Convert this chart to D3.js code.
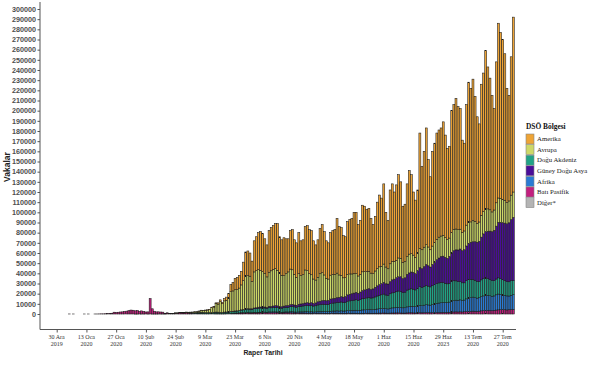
<!DOCTYPE html>
<html>
<head>
<meta charset="utf-8">
<script src="https://cdn.jsdelivr.net/npm/d3@7/dist/d3.min.js"></script>
<style>
body { margin: 0; background: #fff; }
</style>
</head>
<body>
<svg id="chart" width="605" height="367"></svg>
<script>
// daily cases by WHO region, in thousands, one value per day from 30 Dec 2019 (rows = weeks Mon..Sun)
var START = '2019-12-30';

var batiPasifik = [
	null, null, null, null, null, null, 0.04,
	null, 0.02, null, null, null, null, 0.01,
	null, 0.01, null, null, 0.02, 0.02, 0.08,
	0.15, 0.13, 0.26, 0.44, 0.69, 0.77, 1.77,
	1.46, 1.74, 1.98, 2.10, 2.59, 2.83, 3.24,
	3.89, 3.69, 3.14, 3.39, 2.65, 3.00, 2.47,
	2.02, 2.06, 15.15, 5.09, 2.64, 2.01, 2.05,
	1.89, 1.75, 0.55, 1.03, 0.65, 0.64, 0.65,
	0.82, 0.93, 1.2, 1.1, 1.0, 1.2, 1.0,
	0.9, 0.8, 0.7, 0.6, 0.65, 0.6, 0.5,
	0.35, 0.3, 0.3, 0.25, 0.25, 0.2, 0.2,
	0.2, 0.2, 0.2, 0.3, 0.35, 0.4, 0.5,
	0.7, 0.8, 0.9, 1.0, 1.0, 1.1, 1.1,
	1.0, 1.0, 1.1, 1.0, 1.1, 1.2, 1.2,
	1.3, 1.2, 1.4, 1.3, 1.4, 1.3, 1.2,
	1.1, 1.0, 1.1, 1.2, 1.1, 1.2, 1.1,
	1.0, 0.9, 1.0, 0.9, 0.9, 0.9, 0.8,
	0.8, 0.8, 0.7, 0.7, 0.8, 0.8, 0.8,
	0.7, 0.7, 0.6, 0.7, 0.8, 0.7, 0.8,
	0.7, 0.8, 0.7, 0.7, 0.8, 0.7, 0.7,
	0.7, 0.7, 0.6, 0.6, 0.7, 0.7, 0.8,
	0.8, 0.7, 0.7, 0.8, 0.8, 0.9, 0.9,
	1.0, 0.9, 0.8, 0.9, 1.0, 1.0, 1.1,
	1.1, 1.0, 0.9, 0.9, 1.1, 1.2, 1.2,
	1.1, 1.0, 1.2, 1.3, 1.2, 1.3, 1.4,
	1.3, 1.2, 1.3, 1.4, 1.5, 1.5, 1.6,
	1.6, 1.5, 1.6, 1.7, 1.9, 2.0, 2.1,
	2.0, 2.1, 2.0, 2.2, 2.4, 2.5, 2.6,
	2.8, 2.7, 2.6, 2.8, 3.1, 3.3, 3.5,
	3.6, 3.5, 3.4, 3.6, 3.9, 4.1, 4.2,
	4.3, 4.2, 4.0, 4.2, 4.4, 4.5
];

var diger = [
	null, null, null, null, null, null, 0,
	null, 0, null, null, null, null, 0,
	null, 0, null, null, 0, 0, 0,
	0, 0, 0, 0, 0, 0, 0,
	0, 0, 0, 0, 0, 0, 0,
	0, 0, 0.01, 0.04, 0, 0.06, 0.07,
	0, 0.04, 0, 0.04, 0.07, 0.07, 0.1,
	0.09, 0.08, 0.01, 0, 0, 0, 0
];

var afrika = [
	null, null, null, null, null, null, 0,
	null, 0, null, null, null, null, 0,
	null, 0, null, null, 0, 0, 0,
	0, 0, 0, 0, 0, 0, 0,
	0, 0, 0, 0, 0, 0, 0,
	0, 0, 0, 0, 0, 0, 0,
	0, 0, 0, 0, 0, 0, 0,
	0, 0, 0, 0, 0, 0, 0,
	0, 0, 0, 0, 0, 0, 0,
	0, 0, 0, 0.01, 0.01, 0.01, 0.01,
	0.01, 0.01, 0.02, 0.02, 0.03, 0.05, 0.06,
	0.05, 0.05, 0.1, 0.1, 0.15, 0.15, 0.15,
	0.15, 0.15, 0.2, 0.25, 0.3, 0.4, 0.45,
	0.4, 0.4, 0.5, 0.5, 0.6, 0.6, 0.6,
	0.6, 0.5, 0.7, 0.7, 0.7, 0.8, 0.8,
	0.7, 0.7, 0.8, 0.9, 0.9, 1.0, 1.1,
	1.0, 1.0, 1.1, 1.2, 1.2, 1.3, 1.4,
	1.3, 1.4, 1.3, 1.4, 1.6, 1.7, 1.8,
	1.7, 1.7, 1.8, 2.0, 2.1, 2.2, 2.3,
	2.2, 2.3, 2.2, 2.3, 2.6, 2.7, 2.8,
	2.9, 3.0, 2.8, 3.0, 3.3, 3.4, 3.5,
	3.6, 3.5, 3.6, 3.8, 4.1, 4.3, 4.5,
	4.6, 4.3, 4.2, 4.8, 5.0, 5.1, 5.3,
	5.5, 5.4, 5.2, 5.4, 5.9, 6.2, 6.4,
	6.3, 6.2, 6.6, 7.2, 7.0, 7.4, 7.8,
	7.6, 7.5, 8.0, 8.5, 9.0, 9.3, 9.6,
	9.8, 9.7, 9.6, 10.0, 10.8, 11.2, 11.5,
	11.5, 11.8, 11.2, 11.5, 12.5, 13.0, 13.5,
	13.8, 13.5, 13.0, 13.2, 14.0, 14.5, 15.0,
	14.8, 14.5, 14.0, 14.2, 15.0, 15.5, 15.0,
	14.5, 14.2, 13.8, 13.5, 14.0, 14.5
];

var doguAkdeniz = [
	null, null, null, null, null, null, 0,
	null, 0, null, null, null, null, 0,
	null, 0, null, null, 0, 0, 0,
	0, 0, 0, 0, 0, 0, 0,
	0, 0, 0, 0, 0, 0, 0,
	0, 0, 0, 0, 0, 0, 0,
	0, 0, 0, 0, 0, 0, 0,
	0, 0, 0.01, 0.01, 0.02, 0.03, 0.02,
	0.02, 0.05, 0.1, 0.1, 0.15, 0.2, 0.3,
	0.4, 0.5, 0.6, 0.6, 0.9, 1.1, 1.1,
	1.0, 1.0, 1.1, 1.2, 1.4, 1.6, 1.5,
	1.3, 1.2, 1.5, 1.5, 1.6, 1.8, 1.9,
	2.0, 2.0, 2.2, 2.6, 2.8, 3.2, 3.3,
	3.3, 3.2, 3.6, 3.7, 4.0, 4.1, 4.2,
	4.0, 3.8, 4.2, 4.1, 4.3, 4.5, 4.4,
	4.2, 4.0, 4.3, 4.5, 4.6, 5.0, 5.2,
	5.0, 4.8, 5.3, 5.5, 5.8, 6.0, 6.2,
	6.0, 6.1, 5.8, 6.0, 6.5, 6.8, 7.0,
	7.2, 7.0, 7.1, 7.5, 7.8, 8.0, 8.3,
	8.5, 8.7, 8.4, 8.6, 9.2, 9.5, 9.6,
	10.0, 10.3, 10.0, 10.5, 11.0, 11.3, 11.5,
	11.8, 11.5, 11.6, 12.2, 12.8, 13.2, 13.5,
	14.0, 13.5, 13.2, 14.2, 14.8, 15.0, 15.5,
	16.0, 15.8, 15.0, 15.2, 16.5, 17.0, 17.2,
	17.0, 16.5, 17.5, 18.5, 18.0, 18.5, 19.0,
	18.5, 18.0, 18.5, 19.0, 19.5, 19.8, 20.0,
	19.5, 19.0, 18.5, 18.5, 19.5, 19.5, 19.0,
	18.5, 18.0, 17.5, 17.0, 18.0, 18.5, 18.0,
	17.5, 17.0, 16.5, 16.0, 16.5, 17.0, 17.0,
	16.5, 16.0, 15.5, 15.0, 15.5, 16.0, 15.5,
	15.0, 14.5, 14.0, 14.0, 14.5, 14.0
];

var guneyDoguAsya = [
	null, null, null, null, null, null, 0,
	null, 0, null, null, null, null, 0,
	null, 0, null, null, 0, 0, 0,
	0, 0, 0, 0, 0, 0, 0,
	0, 0, 0, 0, 0, 0, 0,
	0, 0, 0, 0, 0, 0, 0,
	0, 0, 0, 0, 0, 0, 0,
	0, 0, 0, 0, 0, 0, 0,
	0, 0, 0, 0, 0, 0, 0,
	0, 0, 0.01, 0.02, 0.01, 0.01, 0.01,
	0.01, 0.02, 0.03, 0.03, 0.03, 0.05, 0.05,
	0.05, 0.05, 0.1, 0.1, 0.1, 0.15, 0.15,
	0.15, 0.15, 0.2, 0.25, 0.3, 0.4, 0.45,
	0.5, 0.5, 0.7, 0.9, 1.0, 1.0, 1.1,
	1.0, 1.0, 1.3, 1.4, 1.5, 1.6, 1.6,
	1.5, 1.4, 1.6, 1.7, 1.8, 2.0, 2.1,
	1.9, 1.9, 2.2, 2.3, 2.4, 2.6, 2.7,
	2.6, 2.8, 2.6, 2.8, 3.2, 3.3, 3.6,
	3.8, 3.6, 3.9, 4.5, 4.3, 4.6, 4.8,
	5.0, 5.2, 5.3, 5.6, 6.2, 6.5, 6.8,
	7.0, 7.3, 7.0, 7.5, 8.0, 8.3, 8.6,
	8.8, 8.5, 8.8, 9.5, 10.0, 10.5, 11.0,
	11.5, 11.0, 11.3, 12.0, 12.8, 13.2, 13.8,
	14.0, 14.5, 13.8, 14.2, 15.5, 16.0, 16.5,
	16.5, 16.0, 17.5, 18.5, 18.5, 19.5, 20.5,
	20.0, 19.5, 21.0, 22.0, 23.5, 24.5, 25.5,
	26.0, 25.5, 25.0, 26.5, 28.0, 29.5, 30.5,
	31.0, 32.0, 31.5, 32.5, 34.0, 35.5, 36.5,
	37.0, 38.0, 38.5, 39.5, 42.0, 44.0, 45.5,
	46.5, 47.5, 48.0, 49.5, 52.0, 54.5, 55.5,
	56.0, 56.5, 57.0, 58.0, 60.0, 62.0
];

var avrupa = [
	null, null, null, null, null, null, 0,
	null, 0, null, null, null, null, 0,
	null, 0, null, null, 0, 0, 0,
	0, 0, 0, 0, 0, 0, 0,
	0, 0, 0, 0, 0, 0, 0,
	0, 0, 0, 0, 0, 0, 0,
	0, 0, 0, 0, 0, 0, 0,
	0, 0, 0, 0, 0.01, 0.02, 0.05,
	0.15, 0.1, 0.15, 0.2, 0.3, 0.4, 0.4,
	0.45, 0.5, 0.8, 0.9, 1.2, 1.8, 1.8,
	2.3, 2.5, 2.9, 4.7, 5.1, 8.2, 7.9,
	10.5, 8.6, 11.0, 11.5, 13.5, 19.5, 20.0,
	21.0, 21.0, 22.0, 24.5, 28.5, 32.5, 32.5,
	32.0, 27.0, 35.5, 36.5, 37.0, 36.0, 34.5,
	33.0, 30.0, 33.5, 35.0, 36.0, 36.5, 35.0,
	33.0, 31.0, 30.0, 31.5, 33.0, 35.0, 34.0,
	30.0, 27.5, 30.0, 28.0, 28.5, 32.5, 31.5,
	29.0, 27.5, 24.0, 22.5, 24.0, 27.0, 27.5,
	25.0, 22.0, 21.0, 23.5, 24.0, 23.5, 24.0,
	22.0, 21.0, 19.0, 18.5, 20.0, 20.0, 19.5,
	19.0, 18.5, 17.0, 17.5, 18.5, 18.0, 17.5,
	17.0, 16.0, 15.0, 16.0, 17.0, 17.5, 17.0,
	18.0, 16.5, 15.0, 17.5, 18.0, 17.5, 17.0,
	18.5, 18.0, 16.0, 16.0, 17.5, 18.5, 18.0,
	17.0, 16.0, 17.0, 19.0, 18.5, 19.0, 19.5,
	18.5, 17.0, 18.0, 19.5, 20.0, 20.5, 20.0,
	20.5, 19.5, 18.5, 18.0, 20.0, 21.0, 20.5,
	20.0, 19.5, 18.0, 18.5, 20.5, 21.0, 20.0,
	21.0, 20.0, 18.5, 19.0, 21.5, 22.0, 22.5,
	22.0, 21.0, 19.5, 20.0, 23.0, 24.0, 23.5,
	23.0, 22.5, 21.0, 21.5, 24.0, 25.0
];

var amerika = [
	null, null, null, null, null, null, 0,
	null, 0, null, null, null, null, 0,
	null, 0, null, null, 0, 0, 0,
	0, 0, 0, 0, 0, 0, 0,
	0, 0, 0, 0, 0, 0, 0,
	0, 0, 0, 0, 0, 0, 0,
	0, 0, 0, 0, 0, 0, 0,
	0, 0, 0, 0, 0, 0, 0,
	0.01, 0, 0.01, 0.02, 0.02, 0.03, 0.04,
	0.05, 0.08, 0.1, 0.1, 0.15, 0.2, 0.2,
	0.25, 0.3, 0.3, 0.5, 0.7, 0.9, 1.3,
	1.8, 1.4, 2.2, 3.1, 4.3, 7.0, 8.3,
	11.0, 11.9, 12.5, 13.4, 18.1, 23.4, 24.2,
	22.8, 19.9, 30.6, 33.4, 36.3, 38.1, 37.4,
	34.1, 31.5, 40.9, 42.5, 43.1, 44.3, 46.0,
	35.5, 34.9, 37.2, 34.2, 32.6, 37.8, 39.5,
	34.1, 33.9, 40.4, 34.1, 34.2, 42.7, 44.4,
	43.3, 43.4, 37.6, 34.6, 36.9, 44.4, 47.3,
	42.6, 37.0, 35.6, 41.8, 43.0, 44.0, 53.8,
	47.6, 47.0, 41.4, 40.3, 52.2, 53.6, 54.6,
	60.4, 60.2, 50.6, 52.9, 65.5, 64.3, 61.1,
	62.0, 53.8, 48.3, 53.7, 65.3, 70.6, 67.1,
	78.9, 53.8, 47.5, 72.6, 76.4, 68.2, 74.3,
	81.9, 75.3, 55.1, 56.3, 71.5, 82.1, 77.7,
	62.1, 56.3, 62.2, 113.5, 81.8, 94.3, 114.8,
	86.1, 71.8, 93.2, 97.6, 104.5, 105.4, 106.3,
	111.6, 100.8, 89.8, 90.3, 119.8, 122.8, 128.4,
	121.0, 118.6, 90.8, 86.3, 118.6, 137.5, 131.4,
	138.9, 122.8, 104.9, 96.5, 128.9, 136.2, 155.5,
	139.6, 129.5, 114.6, 99.7, 138.6, 171.9, 163.3,
	157.2, 144.1, 112.2, 103.8, 136.1, 172.0
];

var regions = ['Amerika', 'Avrupa', 'Doğu Akdeniz', 'Güney Doğu Asya', 'Afrika', 'Batı Pasifik', 'Diğer*'];
var regionColors = ['#eea436', '#cdd867', '#21a386', '#4a0d98', '#2a7bd3', '#c21f7e', '#b4b4b4'];
var regionSeries = [amerika, avrupa, doguAkdeniz, guneyDoguAsya, afrika, batiPasifik, diger];

var yTicks = d3.range(0, 300001, 10000);
var xTickDates = ['2019-12-30', '2020-01-13', '2020-01-27', '2020-02-10', '2020-02-24', '2020-03-09',
	'2020-03-23', '2020-04-06', '2020-04-20', '2020-05-04', '2020-05-18', '2020-06-01', '2020-06-15',
	'2020-06-29', '2020-07-13', '2020-07-27'];
var xTickLabels = [['30 Ara', '2019'], ['13 Oca', '2020'], ['27 Oca', '2020'], ['10 Şub', '2020'],
	['24 Şub', '2020'], ['9 Mar', '2020'], ['23 Mar', '2020'], ['6 Nis', '2020'], ['20 Nis', '2020'],
	['4 May', '2020'], ['18 May', '2020'], ['1 Haz', '2020'], ['15 Haz', '2020'], ['29 Haz', '2023'],
	['13 Tem', '2020'], ['27 Tem', '2020']];

var SANS = '"Liberation Sans", Arial, sans-serif';
var SERIF = '"Liberation Serif", "Times New Roman", serif';

drawChart();

function drawChart() {
	var svg = d3.select('#chart');
	var parse = d3.utcParse('%Y-%m-%d');
	var start = parse(START);

	// stacking order bottom -> top as in the picture
	var stackKeys = ['Diğer*', 'Batı Pasifik', 'Afrika', 'Doğu Akdeniz', 'Güney Doğu Asya', 'Avrupa', 'Amerika'];

	var rows = [];
	for (var i = 0; i < amerika.length; i++) {
		var has = false;
		var row = { date: d3.utcDay.offset(start, i) };
		regions.forEach(function (r, k) {
			var v = regionSeries[k][i];
			if (v !== null && v !== undefined) has = true;
			row[r] = v ? v * 1000 : 0;
		});
		if (has) rows.push(row);
	}

	var x = d3.scaleUtc()
		.domain([parse('2019-12-30'), parse('2020-07-27')])
		.range([56.7, 502.7]);

	var y = d3.scaleLinear()
		.domain([0, 300000])
		.range([314, 9]);

	var color = d3.scaleOrdinal().domain(regions).range(regionColors);
	var bw = 1.95;

	var stacked = d3.stack().keys(stackKeys)(rows);

	svg.append('g')
		.selectAll('g')
		.data(stacked)
		.enter().append('g')
		.attr('fill', function (d) { return color(d.key); })
		.selectAll('rect')
		.data(function (d) { return d; })
		.enter().append('rect')
		.attr('x', function (d) { return x(d.data.date) - bw / 2; })
		.attr('width', bw)
		.attr('y', function (d) { return y(d[1]); })
		.attr('height', function (d) { return Math.max(0, y(d[0]) - y(d[1])); })
		.attr('stroke', '#1a1a1a')
		.attr('stroke-width', 0.55);

	// axes
	var axisColor = '#555';
	var yAxis = svg.append('g')
		.attr('transform', 'translate(40,0)')
		.call(d3.axisLeft(y).tickValues(yTicks).tickFormat(d3.format('d')).tickSize(2.5).tickPadding(1.5));
	yAxis.select('.domain').remove();
	yAxis.selectAll('line').attr('stroke', axisColor);
	yAxis.selectAll('text')
		.attr('fill', '#4d4d4d')
		.style('font-family', SANS)
		.style('font-size', '7.2px')
		.style('font-weight', 'bold');
	svg.append('line')
		.attr('x1', 40).attr('x2', 40).attr('y1', 2).attr('y2', 329.5)
		.attr('stroke', axisColor).attr('stroke-width', 1);

	var xAxis = svg.append('g')
		.attr('transform', 'translate(0,329.5)')
		.call(d3.axisBottom(x).tickValues(xTickDates.map(parse)).tickSize(3).tickFormat(''));
	xAxis.select('.domain').remove();
	xAxis.selectAll('line').attr('stroke', axisColor);
	svg.append('line')
		.attr('x1', 40).attr('x2', 516).attr('y1', 329.5).attr('y2', 329.5)
		.attr('stroke', axisColor).attr('stroke-width', 1);

	var xl = svg.append('g');
	xTickDates.forEach(function (t, i) {
		var tx = xl.append('text')
			.attr('x', x(parse(t)))
			.attr('y', 339)
			.attr('text-anchor', 'middle')
			.attr('fill', '#333')
			.style('font-family', SERIF)
			.style('font-size', '6px');
		tx.append('tspan').attr('x', x(parse(t))).attr('dy', 0).text(xTickLabels[i][0]);
		tx.append('tspan').attr('x', x(parse(t))).attr('dy', 7).text(xTickLabels[i][1]);
	});

	svg.append('text')
		.attr('x', 263)
		.attr('y', 355)
		.attr('text-anchor', 'middle')
		.attr('fill', '#222')
		.style('font-family', SANS)
		.style('font-size', '6.8px')
		.style('font-weight', 'bold')
		.text('Raper Tarihi');

	svg.append('text')
		.attr('transform', 'translate(10,167) rotate(-90)')
		.attr('text-anchor', 'middle')
		.attr('fill', '#222')
		.style('font-family', SANS)
		.style('font-size', '8.5px')
		.style('font-weight', 'bold')
		.text('Vakalar');

	// legend
	var legend = svg.append('g').attr('transform', 'translate(526,0)');
	legend.append('text')
		.attr('x', 0).attr('y', 129)
		.attr('fill', '#111')
		.style('font-family', SERIF)
		.style('font-size', '7.4px')
		.style('font-weight', 'bold')
		.text('DSÖ Bölgesi');

	var item = legend.selectAll('g.item')
		.data(regions)
		.enter().append('g')
		.attr('class', 'item')
		.attr('transform', function (d, i) { return 'translate(0,' + (134 + i * 10.6) + ')'; });

	item.append('rect')
		.attr('width', 8).attr('height', 10)
		.attr('fill', function (d) { return color(d); })
		.attr('stroke', '#888').attr('stroke-width', 0.6);

	item.append('text')
		.attr('x', 11).attr('y', 7.3)
		.attr('fill', '#222')
		.style('font-family', SERIF)
		.style('font-size', '6.8px')
		.text(function (d) { return d; });
}
</script>
</body>
</html>
